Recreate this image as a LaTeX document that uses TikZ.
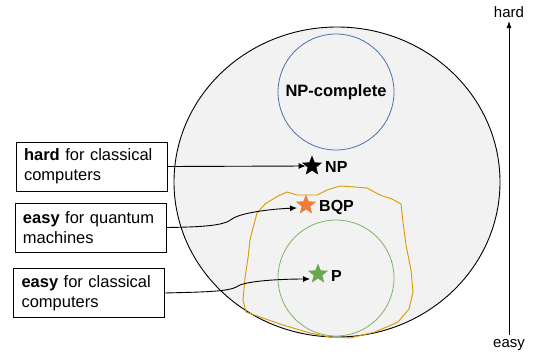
\documentclass[tikz,border=0pt]{standalone}
\usepackage{fontspec}
\setmainfont{Liberation Sans}
\usetikzlibrary{shapes.geometric,arrows.meta}

\definecolor{setfill}{HTML}{F2F2F2}
\definecolor{npcblue}{HTML}{4C6FAF}
\definecolor{pgreen}{HTML}{82B366}
\definecolor{bqpline}{HTML}{D79B00}
\definecolor{starorange}{HTML}{EE7D3B}
\definecolor{stargreen}{HTML}{6AA84F}

\tikzset{
  every node/.style={font=\fontsize{16.5}{20}\selectfont},
  notebox/.style={draw=black, line width=0.9pt, fill=white, minimum width=151pt,
    minimum height=49pt, text width=135pt, inner xsep=8pt, align=left},
  classlabel/.style={anchor=west, inner sep=0pt, font=\fontsize{16}{19}\selectfont\bfseries},
  starmark/.style={star, star points=5, star point ratio=2.3, minimum size=21pt, inner sep=0pt},
  pointer/.style={line width=0.9pt, -{Latex[length=7pt,width=6pt]}},
}

\begin{document}
\begin{tikzpicture}[x=1pt, y=-1pt]
\useasboundingbox (0,0) rectangle (538,357);

% outer set: NP
\draw[fill=setfill, line width=0.9pt] (337,182) ellipse [x radius=163, y radius=155];

% NP-complete
\node[circle, draw=npcblue, line width=0.8pt, minimum size=116pt, inner sep=0pt,
  font=\fontsize{16.5}{20}\selectfont\bfseries] (npc) at (336,92) {NP-complete};

% BQP region, drawn free-hand
\draw[bqpline, line width=0.9pt, line join=round]
  (250,240) -- (253,228) -- (257,213) -- (265,204) -- (278,196) -- (287,192)
  -- (297,195) -- (317,195) -- (327,190) -- (340,186) -- (355,187) -- (367,188)
  -- (380,195) -- (392,199) -- (401,204) -- (403,222) -- (406,245) -- (411,270)
  -- (413,292) -- (409,309) -- (398,322) -- (375,332) -- (350,338) -- (330,337)
  -- (310,333) -- (283,325) -- (260,317) -- (246,312) -- (243,300) -- (245,278)
  -- (248,258) -- cycle;

% P
\node[circle, draw=pgreen, line width=0.8pt, minimum size=116pt, inner sep=0pt] (pset) at (336,278) {};

% class markers
\node[starmark, fill=black] (snp) at (312,166) {};
\node[classlabel] (lnp) at (325,167) {NP};
\node[starmark, fill=starorange] (sbqp) at (306,205) {};
\node[classlabel] (lbqp) at (319,207) {BQP};
\node[starmark, fill=stargreen] (sp) at (318,274) {};
\node[classlabel] (lp) at (331,276) {P};

% explanatory boxes
\node[notebox] (b1) at (91.5,166.5) {\textbf{hard} for classical computers};
\node[notebox] (b2) at (90.5,227.5) {\textbf{easy} for quantum machines};
\node[notebox] (b3) at (89,293) {\textbf{easy} for classical computers};

% connectors
\coordinate (h2) at (232,219);
\coordinate (t2) at (297,208);
\coordinate (h3) at (238,286);
\coordinate (t3) at (310,279);
\draw[pointer] (b1.east) -- (snp.west);
\draw[pointer] (b2.east) .. controls (200,227) and (224,226) .. (h2)
  .. controls (240,213) and (270,209) .. (t2);
\draw[pointer] (b3.east) .. controls (200,292) and (230,292) .. (h3)
  .. controls (246,281) and (280,279) .. (t3);

% difficulty scale
\node[font=\fontsize{15}{18}\selectfont] (hard) at (509,12) {hard};
\node[font=\fontsize{15}{18}\selectfont] (easy) at (509,345) {easy};
\coordinate (sbot) at (509,335);
\coordinate (stop) at (509,21);
\draw[line width=0.8pt, -{Latex[length=7pt,width=5pt]}] (sbot) -- (stop);
\end{tikzpicture}
\end{document}
